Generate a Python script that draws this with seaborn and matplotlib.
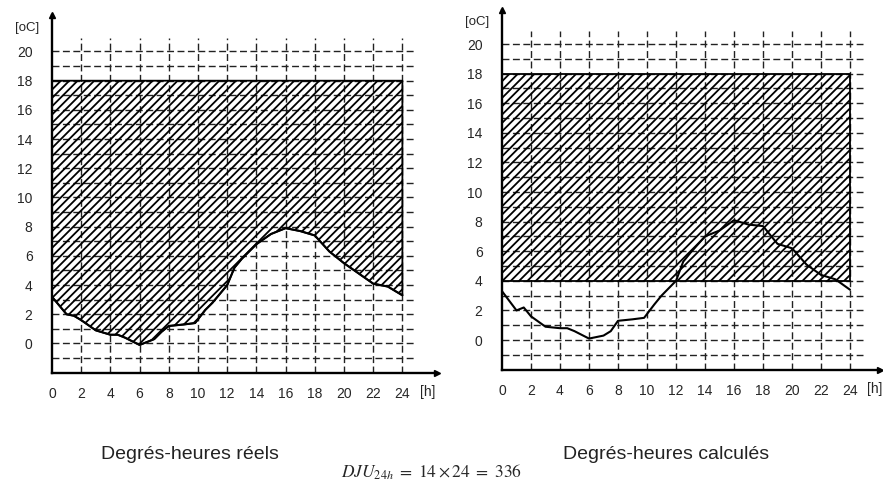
import numpy as np
import pandas as pd
import matplotlib
matplotlib.use("Agg")
import matplotlib.pyplot as plt
from matplotlib import font_manager
import seaborn as sns

# hourly outdoor temperature
hours = [0, 1, 1.5, 2, 3, 4, 4.5, 5, 6, 7, 7.5, 8, 9, 9.8, 10.5, 11, 12, 12.5, 13,
         14, 15, 16, 17, 18, 19, 20, 21, 22, 23, 24]
temp_real = [3.2, 2.0, 1.9, 1.6, 0.9, 0.6, 0.6, 0.4, -0.1, 0.3, 0.8, 1.2, 1.3, 1.4,
             2.3, 2.8, 4.0, 5.2, 5.8, 6.8, 7.5, 7.9, 7.7, 7.4, 6.3, 5.5, 4.8, 4.1, 3.9, 3.3]
temp_calc = [3.3, 2.0, 2.2, 1.6, 0.9, 0.8, 0.8, 0.6, 0.1, 0.3, 0.6, 1.3, 1.4, 1.5,
             2.4, 3.0, 4.0, 5.3, 5.9, 7.0, 7.4, 8.1, 7.8, 7.7, 6.5, 6.2, 5.1, 4.4, 4.1, 3.4]
t_base = 18      # consigne
t_mean = 4       # moyenne journaliere (calcul)
xticks = list(range(0, 25, 2))
yticks = list(range(0, 21, 2))
titles = ["Degrés-heures réels", "Degrés-heures calculés"]
formula = r"$DJU_{24h}\ =\ 14 \times 24\ =\ 336$"

sns.set_style("white")
plt.rcParams['font.family'] = ['Liberation Sans', 'DejaVu Sans']
plt.rcParams['mathtext.fontset'] = 'stix'
plt.rcParams['hatch.linewidth'] = 1.3

# captions use a narrow sans if one is there
installed = {f.name for f in font_manager.fontManager.ttflist}
if 'Liberation Sans Narrow' in installed:
    cap_font, cap_size = ['Liberation Sans Narrow', 'DejaVu Sans'], 16.5
else:
    cap_font, cap_size = ['Liberation Sans', 'DejaVu Sans'], 14

W, H = 883, 486
fig = plt.figure(figsize=(W / 100, H / 100), dpi=100)

# axes boxes in pixels: left, top, px per hour, px per degree, xmax, ymax
boxes = [(52, 15, 14.6, 14.6, 26.4, 22.5),
         (502, 10, 14.5, 14.8, 26.1, 22.3)]
ymin = -2

axes = []
for (l, t, px, py, xmax, ymax) in boxes:
    w = xmax * px
    h = (ymax - ymin) * py
    ax = fig.add_axes([l / W, 1 - (t + h) / H, w / W, h / H])
    ax.set_xlim(0, xmax)
    ax.set_ylim(ymin, ymax)
    axes.append(ax)


def draw_grid(ax):
    for y in range(-1, 21):
        ax.plot([0, 24.9], [y, y], color='#222222', lw=1.0, ls=(0, (5, 2.5)), zorder=1)
    for x in xticks[1:]:
        ax.plot([x, x], [ymin, 20.9], color='#222222', lw=1.0, ls=(0, (5, 2.5)), zorder=1)


def style_axes(ax, unit_y):
    for s in ['top', 'right']:
        ax.spines[s].set_visible(False)
    for s in ['left', 'bottom']:
        ax.spines[s].set_linewidth(1.7)
        ax.spines[s].set_color('black')
    ax.set_xticks(xticks)
    ax.set_yticks(yticks)
    ax.set_yticks(range(-1, 20, 2), minor=True)
    ax.tick_params(axis='x', length=0, pad=10, labelsize=10)
    ax.tick_params(axis='y', which='both', direction='out', length=4, width=1.2,
                   pad=10, labelsize=10)
    ax.set_xlabel("")
    ax.set_ylabel("")
    # arrow heads
    ax.plot(1, ymin, ">k", ms=5, transform=ax.get_yaxis_transform(), clip_on=False)
    ax.plot(0, 1, "^k", ms=5, transform=ax.get_xaxis_transform(), clip_on=False)
    ax.text(25.2, -3.3, "[h]", fontsize=10, va='center', ha='left', clip_on=False)
    ax.text(-0.9, unit_y, "[oC]", fontsize=9.5, va='center', ha='right', clip_on=False)


# left: real degree-hours, area between curve and 18 degC
ax = axes[0]
draw_grid(ax)
ax.fill_between(hours, temp_real, t_base, facecolor='none', edgecolor='black',
                hatch='////', lw=1.3, zorder=2)
sns.lineplot(x=hours, y=temp_real, ax=ax, color='black', lw=1.5, zorder=3)
style_axes(ax, 21.6)

# right: calculated degree-hours, rectangle between mean temp and 18 degC
ax = axes[1]
draw_grid(ax)
ax.fill_between([0, 24], [t_mean, t_mean], [t_base, t_base], facecolor='none',
                edgecolor='black', hatch='////', lw=1.3, zorder=2)
sns.lineplot(x=hours, y=temp_calc, ax=ax, color='black', lw=1.5, zorder=3)
style_axes(ax, 21.5)

fig.text(190 / W, 1 - 454 / H, titles[0], fontsize=cap_size, family=cap_font,
         color='#222222', ha='center', va='center')
fig.text(666 / W, 1 - 454 / H, titles[1], fontsize=cap_size, family=cap_font,
         color='#222222', ha='center', va='center')
fig.text(432 / W, 1 - 472 / H, formula, fontsize=12.5, ha='center', va='center')

fig.savefig("out.png", dpi=100)
